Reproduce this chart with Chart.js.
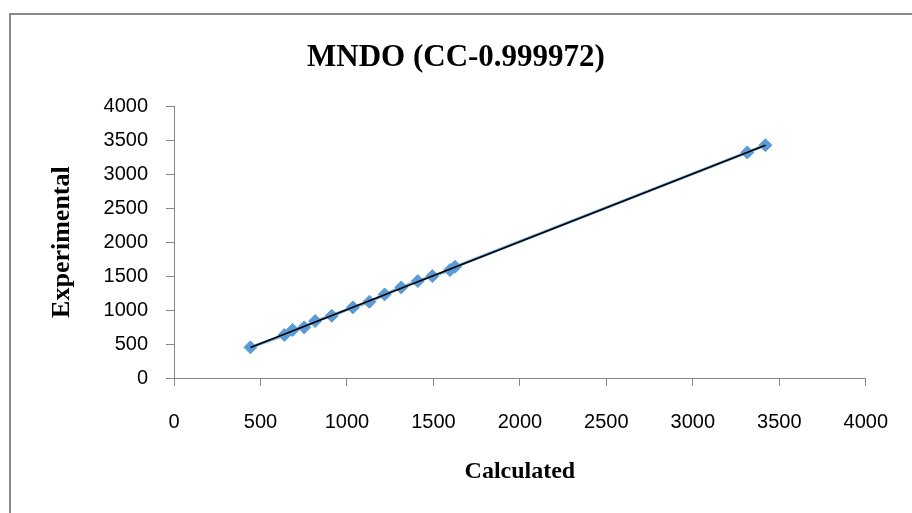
<!DOCTYPE html>
<html>
<head>
<meta charset="utf-8">
<script src="https://cdn.jsdelivr.net/npm/chart.js@4/dist/chart.umd.min.js"></script>
<style>
  html, body { margin: 0; padding: 0; background: #fff; overflow: hidden; }
  #wrap { position: relative; width: 912px; height: 513px; }
  #frame { position: absolute; left: 9px; top: 13px; width: 1000px; height: 1000px; border: 2px solid #888; }
  #c { position: absolute; left: 0; top: 0; }
</style>
</head>
<body>
<div id="wrap">
  <div id="frame"></div>
  <canvas id="c" width="912" height="513"></canvas>
</div>
<script>
const calculated   = [442, 638, 686, 753, 816, 912, 1034, 1130, 1218, 1314, 1410, 1494, 1596, 1625, 3315, 3420];
const experimental = [451, 632, 706, 745, 838, 916, 1039, 1122, 1230, 1333, 1426, 1500, 1588, 1637, 3319, 3426];
const chartTitle = 'MNDO (CC-0.999972)';
const xTitle = 'Calculated';
const yTitle = 'Experimental';
const axisMin = 0, axisMax = 4000, axisStep = 500;

const points = calculated.map((x, i) => ({ x, y: experimental[i] }));

// least squares trendline over the data range, like the spreadsheet trendline
function trendline(xs, ys) {
    const n = xs.length;
    const mx = xs.reduce((a, b) => a + b, 0) / n;
    const my = ys.reduce((a, b) => a + b, 0) / n;
    let sxy = 0, sxx = 0;
    xs.forEach((x, i) => { sxy += (x - mx) * (ys[i] - my); sxx += (x - mx) * (x - mx); });
    const slope = sxy / sxx, icpt = my - slope * mx;
    const lo = Math.min(...xs), hi = Math.max(...xs);
    return [{ x: lo, y: icpt + slope * lo }, { x: hi, y: icpt + slope * hi }];
}

const serif = "'Liberation Serif', 'Times New Roman', serif";
const sans = "'Liberation Sans', Arial, sans-serif";
const axisGray = '#888888';
const plain = v => String(v);

new Chart(document.getElementById('c').getContext('2d'), {
    type: 'scatter',
    data: {
        datasets: [
            {
                label: 'trend', data: trendline(calculated, experimental), showLine: true,
                borderColor: '#000', borderWidth: 1.6, pointRadius: 0, order: 0
            },
            {
                label: 'MNDO', data: points, showLine: true,
                borderColor: 'rgba(91,155,213,0.8)', borderWidth: 3,
                pointStyle: 'rectRot', pointRadius: 6.5,
                pointBackgroundColor: '#5b9bd5', pointBorderColor: '#5b9bd5', pointBorderWidth: 1,
                order: 1
            }
        ]
    },
    options: {
        responsive: false,
        animation: false,
        layout: { padding: 0 },
        plugins: {
            legend: { display: false },
            tooltip: { enabled: false },
            title: {
                display: true, text: chartTitle, color: '#000',
                font: { family: serif, size: 31, weight: 'bold' },
                padding: { top: 39, bottom: 30 }
            }
        },
        scales: {
            x: {
                type: 'linear', min: axisMin, max: axisMax,
                ticks: { stepSize: axisStep, color: '#000', font: { family: sans, size: 20 }, padding: 24, callback: plain },
                grid: { drawOnChartArea: false, color: axisGray, tickLength: 8 },
                border: { color: axisGray },
                title: { display: true, text: xTitle, color: '#000', font: { family: serif, size: 24, weight: 'bold' }, padding: { bottom: 27 } },
                afterFit: s => { s.height = 135; }
            },
            y: {
                type: 'linear', min: axisMin, max: axisMax,
                ticks: { stepSize: axisStep, color: '#000', font: { family: sans, size: 20 }, padding: 18, callback: plain },
                grid: { drawOnChartArea: false, color: axisGray, tickLength: 8 },
                border: { color: axisGray },
                title: { display: true, text: yTitle, color: '#000', font: { family: serif, size: 26, weight: 'bold' }, padding: { top: 47 } },
                afterFit: s => { s.width = 174; }
            },
            // empty spacer on the right so the plot ends where the reference does
            spacer: {
                type: 'linear', position: 'right', display: true,
                ticks: { display: false }, grid: { display: false }, border: { display: false },
                afterFit: s => { s.width = 41; }
            }
        }
    }
});
</script>
</body>
</html>
